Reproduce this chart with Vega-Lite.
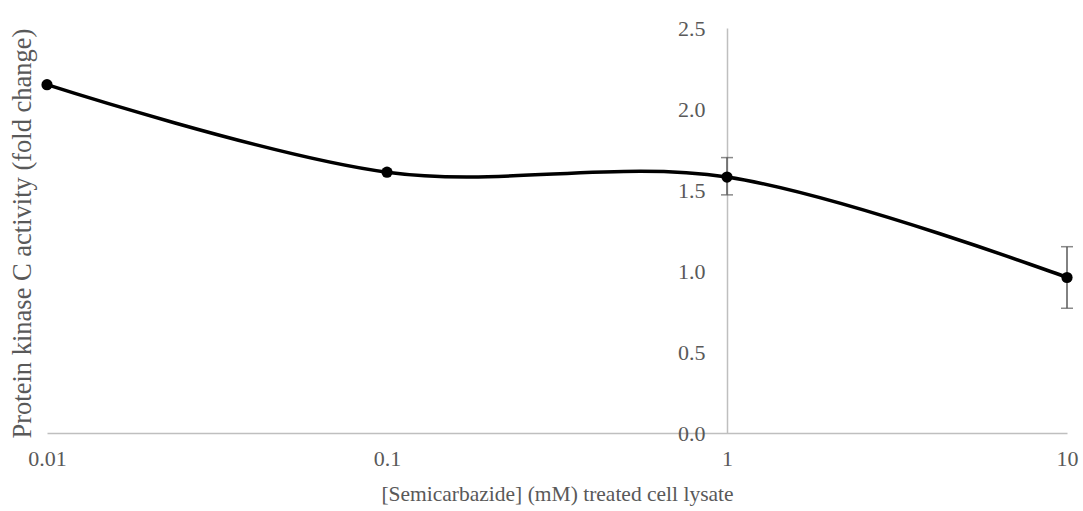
{
  "$schema": "https://vega.github.io/schema/vega-lite/v6.json",
  "autosize": {"type": "none"},
  "width": 1020,
  "height": 405,
  "padding": {"left": 47, "top": 28, "right": 16, "bottom": 78},
  "background": "white",
  "config": {
    "view": {"stroke": null},
    "font": "Liberation Serif",
    "axis": {"labelFont": "Liberation Serif", "titleFont": "Liberation Serif", "labelFontSize": 22, "labelColor": "#595959", "titleColor": "#595959", "titleFontWeight": "normal", "grid": false, "ticks": false, "domainColor": "#bfbfbf", "domainWidth": 1.5}
  },
  "data": {
    "values": [
      {"conc": 0.01, "pkc": 2.15},
      {"conc": 0.1, "pkc": 1.61},
      {"conc": 1, "pkc": 1.58, "lo": 1.47, "hi": 1.70},
      {"conc": 10, "pkc": 0.96, "lo": 0.77, "hi": 1.15}
    ]
  },
  "encoding": {
    "x": {
      "field": "conc", "type": "quantitative",
      "scale": {"type": "log", "domain": [0.01, 10], "nice": false},
      "axis": {
        "title": "[Semicarbazide] (mM) treated cell lysate",
        "values": [0.01, 0.1, 1, 10], "format": "~g",
        "labelFontSize": 22, "titleFontSize": 21.5,
        "labelPadding": 15, "titlePadding": 14,
        "labelFlush": false, "labelOverlap": false, "labelBound": false
      }
    }
  },
  "layer": [
    {
      "mark": {"type": "rule", "color": "#595959", "strokeWidth": 1.5},
      "encoding": {
        "y": {"field": "lo", "type": "quantitative"},
        "y2": {"field": "hi"}
      }
    },
    {
      "mark": {"type": "tick", "orient": "horizontal", "color": "#595959", "size": 12, "thickness": 1.5},
      "encoding": {"y": {"field": "lo", "type": "quantitative"}}
    },
    {
      "mark": {"type": "tick", "orient": "horizontal", "color": "#595959", "size": 12, "thickness": 1.5},
      "encoding": {"y": {"field": "hi", "type": "quantitative"}}
    },
    {
      "mark": {"type": "line", "interpolate": "catmull-rom", "color": "black", "strokeWidth": 3.5},
      "encoding": {
        "y": {
          "field": "pkc", "type": "quantitative",
          "scale": {"domain": [0, 2.5], "nice": false},
          "axis": {
            "title": "Protein kinase C activity (fold change)",
            "values": [0, 0.5, 1, 1.5, 2, 2.5], "format": ".1f",
            "offset": -680,
            "labelFontSize": 22, "titleFontSize": 26.5,
            "labelPadding": 22,
            "titleX": -705, "titleY": 205, "titleAngle": -90,
            "titleAlign": "center", "titleBaseline": "middle"
          }
        }
      }
    },
    {
      "mark": {"type": "point", "filled": true, "color": "black", "size": 125, "opacity": 1},
      "encoding": {"y": {"field": "pkc", "type": "quantitative"}}
    }
  ]
}
